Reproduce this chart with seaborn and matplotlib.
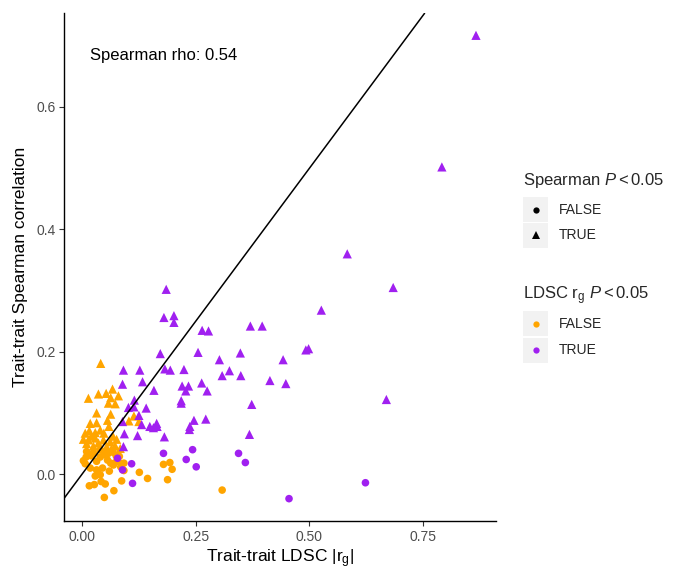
import numpy as np
import pandas as pd
import matplotlib
matplotlib.use("Agg")
import matplotlib.pyplot as plt
from matplotlib.patches import Rectangle
from matplotlib.lines import Line2D
import seaborn as sns

# ---------------- data ----------------
# LDSC significant (purple), Spearman significant (triangles)
purple_tri_x = [0.866, 0.791, 0.583, 0.684, 0.526, 0.492, 0.498, 0.442, 0.448, 0.669,
                0.185, 0.180, 0.202, 0.202, 0.264, 0.278, 0.370, 0.396,
                0.172, 0.255, 0.302, 0.348,
                0.091, 0.127, 0.182, 0.194, 0.224, 0.308, 0.324, 0.349, 0.413,
                0.089, 0.133, 0.158, 0.220, 0.234, 0.228, 0.263, 0.275,
                0.218, 0.218, 0.373,
                0.115, 0.114, 0.102, 0.141, 0.125, 0.089,
                0.131, 0.149, 0.157, 0.164, 0.165, 0.246, 0.272, 0.236, 0.237,
                0.368, 0.093, 0.122, 0.181, 0.091]
purple_tri_y = [0.717, 0.502, 0.360, 0.305, 0.268, 0.203, 0.205, 0.187, 0.148, 0.122,
                0.302, 0.256, 0.259, 0.248, 0.235, 0.234, 0.242, 0.242,
                0.197, 0.199, 0.187, 0.198,
                0.170, 0.170, 0.172, 0.170, 0.171, 0.161, 0.169, 0.161, 0.153,
                0.147, 0.151, 0.137, 0.144, 0.144, 0.136, 0.149, 0.136,
                0.120, 0.116, 0.114,
                0.121, 0.110, 0.109, 0.108, 0.096, 0.086,
                0.081, 0.078, 0.076, 0.083, 0.078, 0.088, 0.090, 0.073, 0.078,
                0.065, 0.066, 0.063, 0.061, 0.045]

# LDSC significant (purple), Spearman not significant (circles)
purple_circ_x = [0.078, 0.109, 0.089, 0.111, 0.179, 0.243, 0.229, 0.251, 0.344, 0.359, 0.455, 0.623]
purple_circ_y = [0.026, 0.017, 0.007, -0.015, 0.034, 0.040, 0.024, 0.012, 0.034, 0.019, -0.040, -0.014]

# LDSC not significant (orange), Spearman significant (triangles)
orange_tri_x = [0.041, 0.014, 0.036, 0.053, 0.067, 0.080, 0.063, 0.058, 0.073, 0.032,
                0.063, 0.018, 0.032, 0.056, 0.059, 0.114, 0.103, 0.125,
                0.007, 0.016, 0.029, 0.040, 0.048, 0.003, 0.014, 0.029, 0.047,
                0.062, 0.073, 0.084, 0.065, 0.054, 0.036, 0.076, 0.020, 0.010,
                0.025, 0.068]
orange_tri_y = [0.181, 0.124, 0.131, 0.132, 0.139, 0.128, 0.125, 0.116, 0.115, 0.100,
                0.098, 0.083, 0.084, 0.088, 0.078, 0.095, 0.087, 0.086,
                0.067, 0.071, 0.068, 0.072, 0.067, 0.057, 0.056, 0.059, 0.056,
                0.053, 0.046, 0.042, 0.042, 0.045, 0.051, 0.057, 0.062, 0.050,
                0.046, 0.062]

# LDSC not significant (orange), Spearman not significant (circles)
orange_circ_x = [0.009, 0.007, 0.018, 0.032, 0.040, 0.032, 0.040, 0.056, 0.058, 0.069,
                 0.076, 0.082, 0.087, 0.029, 0.016, 0.027, 0.042, 0.051, 0.049, 0.070,
                 0.087, 0.092, 0.126, 0.144, 0.179, 0.193, 0.198, 0.188, 0.308,
                 0.010, 0.025, 0.040, 0.053, 0.068, 0.048, 0.063, 0.085, 0.020,
                 0.003, 0.045, 0.060, 0.075, 0.092]
orange_circ_y = [0.028, 0.017, 0.010, 0.021, 0.028, 0.007, -0.001, 0.023, 0.034, 0.015,
                 0.021, 0.029, 0.017, -0.003, -0.019, -0.017, -0.012, -0.016, -0.038, -0.027,
                 -0.011, 0.006, 0.003, -0.007, 0.016, 0.019, 0.008, -0.009, -0.026,
                 0.037, 0.035, 0.040, 0.038, 0.036, 0.032, 0.018, 0.012, 0.030,
                 0.022, 0.010, 0.005, 0.030, 0.018]

x_ticks = [0.00, 0.25, 0.50, 0.75]
x_tick_labels = ["0.00", "0.25", "0.50", "0.75"]
y_ticks = [0.0, 0.2, 0.4, 0.6]
y_tick_labels = ["0.0", "0.2", "0.4", "0.6"]
rho_label = "Spearman rho: 0.54"
legend_levels = ["FALSE", "TRUE"]

# ---------------- build table ----------------
frames = []
for xs, ys, ldsc, spear in [
    (orange_circ_x, orange_circ_y, "FALSE", "FALSE"),
    (orange_tri_x, orange_tri_y, "FALSE", "TRUE"),
    (purple_circ_x, purple_circ_y, "TRUE", "FALSE"),
    (purple_tri_x, purple_tri_y, "TRUE", "TRUE"),
]:
    frames.append(pd.DataFrame({"ldsc": xs, "spearman": ys,
                                "ldsc_sig": ldsc, "spear_sig": spear}))
df = pd.concat(frames, ignore_index=True)

# ---------------- style ----------------
sns.set_theme(style="white")
plt.rcParams["font.family"] = ["Liberation Sans", "DejaVu Sans"]
plt.rcParams["mathtext.fontset"] = "custom"
plt.rcParams["mathtext.rm"] = "Liberation Sans"
plt.rcParams["mathtext.it"] = "Liberation Sans:italic"
plt.rcParams["mathtext.bf"] = "Liberation Sans:bold"

ORANGE = "#FFA500"
PURPLE = "#A020F0"
W, H = 676, 571

fig = plt.figure(figsize=(W / 100, H / 100), dpi=100)
ax = fig.add_axes([64.3 / W, 1 - 521.3 / H, (496 - 64.3) / W, (521.3 - 13.3) / H])

palette = {"FALSE": ORANGE, "TRUE": PURPLE}
for spear, marker, size in [("FALSE", "o", 30), ("TRUE", "^", 44)]:
    sub = df[df["spear_sig"] == spear]
    sns.scatterplot(data=sub, x="ldsc", y="spearman", hue="ldsc_sig",
                    palette=palette, marker=marker, s=size, linewidth=0,
                    legend=False, ax=ax, zorder=2)

ax.axline((0, 0), slope=1, color="black", lw=1.1, zorder=3)

ax.set_xlim(-0.039, 0.91)
ax.set_ylim(-0.077, 0.753)
ax.set_xticks(x_ticks)
ax.set_xticklabels(x_tick_labels)
ax.set_yticks(y_ticks)
ax.set_yticklabels(y_tick_labels)

for side in ["top", "right"]:
    ax.spines[side].set_visible(False)
for side in ["left", "bottom"]:
    ax.spines[side].set_color("black")
    ax.spines[side].set_linewidth(1.0)

ax.tick_params(axis="both", which="major", length=3.5, width=0.8, color="#333333",
               labelsize=10, labelcolor="#4D4D4D", pad=2.5, bottom=True, left=True)

ax.set_xlabel(r"Trait-trait LDSC $|\mathrm{r}_\mathrm{g}|$", fontsize=12.5, color="black", labelpad=3)
ax.set_ylabel("Trait-trait Spearman correlation", fontsize=12.5, color="black", labelpad=6)

ax.text(0.179, 0.676, rho_label, ha="center", va="baseline", fontsize=12, color="black")

# ---------------- legends (drawn in figure pixels) ----------------
def fx(px):
    return px / W

def fy(py):
    return 1 - py / H

fig.text(fx(522.7), fy(185), r"Spearman $\mathit{P} < 0.05$", fontsize=12, va="baseline", ha="left")
key_tops = [197, 223]
for top, lab, mk in zip(key_tops, legend_levels, ["o", "^"]):
    fig.add_artist(Rectangle((fx(523.3), fy(top + 25)), 25 / W, 25 / H,
                             transform=fig.transFigure, facecolor="#F2F2F2", edgecolor="none"))
    fig.add_artist(Line2D([fx(536)], [fy(top + 12.5)], marker=mk, color="black",
                          markersize=4.5 if mk == "o" else 5.5, linestyle="none",
                          markeredgewidth=0, transform=fig.transFigure))
    fig.text(fx(559), fy(top + 12.5), lab, fontsize=10, va="center", ha="left")

fig.text(fx(522.7), fy(299.5), r"LDSC $\mathrm{r}_\mathrm{g}$ $\mathit{P} < 0.05$", fontsize=12,
         va="baseline", ha="left")
key_tops2 = [311, 337.5]
for top, lab, col in zip(key_tops2, legend_levels, [ORANGE, PURPLE]):
    fig.add_artist(Rectangle((fx(523.3), fy(top + 25)), 25 / W, 25 / H,
                             transform=fig.transFigure, facecolor="#F2F2F2", edgecolor="none"))
    fig.add_artist(Line2D([fx(536)], [fy(top + 12.5)], marker="o", color=col,
                          markersize=4.5, linestyle="none", markeredgewidth=0,
                          transform=fig.transFigure))
    fig.text(fx(559), fy(top + 12.5), lab, fontsize=10, va="center", ha="left")

fig.savefig("out.png", dpi=100)
